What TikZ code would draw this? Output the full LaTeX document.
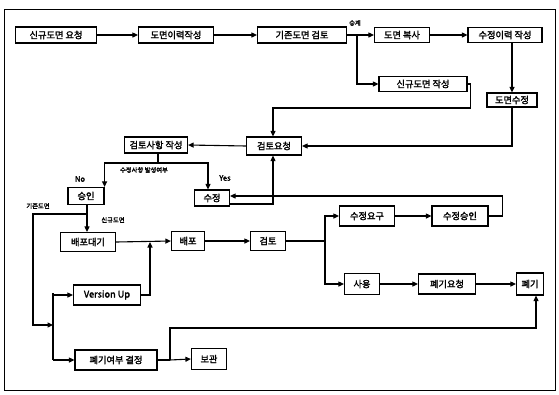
\documentclass[tikz,border=0pt]{standalone}
\usepackage{fontspec}
\newfontfamily\kr[AutoFakeBold=2.2]{Noto Sans CJK KR}
\usetikzlibrary{arrows.meta}
\tikzset{
  box/.style={draw, line width=1.2pt, inner sep=1pt, font=\kr\bfseries\fontsize{9.2}{10}\selectfont},
  conn/.style={line width=1.1pt},
  arr/.style={line width=1.1pt, -{Triangle[length=5.5pt,width=5pt]}},
  lbl/.style={font=\kr\bfseries\fontsize{6.3}{7}\selectfont, inner sep=0pt},
}
\begin{document}
\begin{tikzpicture}[x=1pt,y=-1pt]
\useasboundingbox (0,0) rectangle (559,394);
\draw[line width=0.8pt] (4,9) rectangle (555,390);
% nodes
\node[box, minimum width=81pt, minimum height=16pt] (n1) at (56,35) {신규도면 요청};
\node[box, minimum width=75pt, minimum height=16pt] (n2) at (176,35) {도면이력작성};
\node[box, minimum width=89pt, minimum height=16pt] (n3) at (302,35) {기존도면 검토};
\node[box, minimum width=55pt, minimum height=15pt] (n4) at (402,35) {도면 복사};
\node[box, minimum width=74pt, minimum height=15pt] (n5) at (505,35) {수정이력 작성};
\node[box, minimum width=88pt, minimum height=15pt] (n6) at (423,84) {신규도면 작성};
\node[box, minimum width=50pt, minimum height=14pt] (n7) at (512,100) {도면수정};
\node[box, minimum width=55pt, minimum height=18pt] (n8) at (274,146) {검토요청};
\node[box, minimum width=63pt, minimum height=16pt] (n9) at (156,145) {검토사항 작성};
\node[box, minimum width=36pt, minimum height=17pt] (n10) at (86,196) {승인};
\node[box, minimum width=35pt, minimum height=16pt] (n11) at (212,198) {수정};
\node[box, minimum width=55pt, minimum height=19pt] (n12) at (88,242) {배포대기};
\node[box, minimum width=33pt, minimum height=19pt] (n13) at (188,241) {배포};
\node[box, minimum width=35pt, minimum height=19pt] (n14) at (268,241) {검토};
\node[box, minimum width=55pt, minimum height=20pt] (n15) at (367,216) {수정요구};
\node[box, minimum width=56pt, minimum height=20pt] (n16) at (460,216) {수정승인};
\node[box, minimum width=35pt, minimum height=21pt] (n17) at (362,284) {사용};
\node[box, minimum width=57pt, minimum height=20pt] (n18) at (447,284) {폐기요청};
\node[box, minimum width=27pt, minimum height=22pt] (n19) at (530,284) {폐기};
\node[box, minimum width=67pt, minimum height=20pt] (n20) at (107,295) {Version Up};
\node[box, minimum width=82pt, minimum height=20pt] (n21) at (116,360) {폐기여부 결정};
\node[box, minimum width=35pt, minimum height=21pt] (n22) at (209,359) {보관};
% coordinates
\coordinate (s1) at (357,35);
\coordinate (t1) at (158,163);
\coordinate (t2) at (87,214);
\coordinate (v1) at (53,295);
\coordinate (v2) at (53,360);
\coordinate (j1) at (150,242);
\coordinate (j2) at (325,241);
\coordinate (j3) at (170,360);
% labels
\node[lbl] (l1) at (355,23) {승계};
\node[lbl] (l2) at (144,170) {수정사항 발생여부};
\node[lbl, font=\kr\bfseries\fontsize{7.5}{8}\selectfont] (l3) at (80,179) {No};
\node[lbl, font=\kr\bfseries\fontsize{7.5}{8}\selectfont] (l4) at (225,178) {Yes};
\node[lbl] (l5) at (38,206) {기존도면};
\node[lbl] (l6) at (113,220) {신규도면};
% connectors
\draw[arr] (n1) -- (n2);
\draw[arr] (n2) -- (n3);
\draw[conn] (n3.east) -- (s1);
\draw[arr] (s1) -- (n4.west);
\draw[arr] (s1) |- (n6.west);
\draw[arr] (n4) -- (n5);
\draw[arr] (n5.south -| n7.north) -- (n7.north);
\draw[arr] (n6.east) -- ++(3,0) |- (273,108) -- (n8.north -| 273,0);
\draw[arr] (n7.south) |- (n8.east);
\draw[arr] (n8.west) -- (n9.east);
\draw[conn] (n9.south -| t1) -- (t1);
\draw[arr] (t1) -| (n10.north east);
\draw[arr] (t1) -| (n11.north -| 208,0);
\draw[arr] ([yshift=-6pt]n11.east) -| (n8.south -| 273,0);
\draw[arr] (n16.east) -- ++(14,0) |- ([yshift=2pt]n11.east);
\draw[arr] (n10.south -| t2) -- (n12.north -| t2);
\draw[arr] (t2) -- (33,214) |- (53,325);
\draw[conn] (53,293) -- (v2);
\draw[arr] (v1) -- (n20.west);
\draw[arr] (v2) -- (n21.west);
\draw[arr] (n12.east) -- (n13.west);
\draw[arr] (n20.east) -| (j1);
\draw[arr] (n13) -- (n14);
\draw[conn] (n14.east) -- (j2);
\draw[arr] (j2) |- (n15.west);
\draw[arr] (j2) |- (n17.west);
\draw[arr] (n15) -- (n16);
\draw[arr] (n17) -- (n18);
\draw[arr] (n18) -- (n19);
\draw[conn] (n21.east) -- (j3);
\draw[arr] (j3) -- (n22.west);
\draw[arr] (j3) |- (536,328) -- (n19.south -| 536,0);
\end{tikzpicture}
\end{document}
